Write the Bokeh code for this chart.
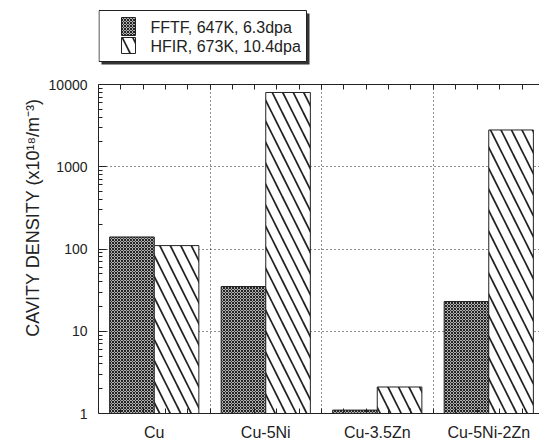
import math
from bokeh.plotting import figure
from bokeh.layouts import row, column
from bokeh.models import (Range1d, FixedTicker, LinearAxis, PrintfTickFormatter,
                          CustomJSTickFormatter)
from bokeh.core.properties import value
from bokeh.embed import file_html
from bokeh.resources import INLINE

categories = ["Cu", "Cu-5Ni", "Cu-3.5Zn", "Cu-5Ni-2Zn"]
fftf = [140, 35, 1.1, 23]
hfir = [110, 8000, 2.1, 2800]
series_labels = ["FFTF, 647K, 6.3dpa", "HFIR, 673K, 10.4dpa"]
y_ticks = [1, 10, 100, 1000, 10000]
y_tick_labels = ["1", "10", "100", "1000", "10000"]
y_title = "CAVITY DENSITY (x10\u00b9\u2078/m\u207b\u00b3)"

FONT = "Liberation Sans"
INK = "#222222"
FFTF_STYLE = dict(fill_color="#b0b0b0", hatch_pattern="x", hatch_scale=3,
                  hatch_color=INK, hatch_weight=1, line_color=INK, line_width=1)
HFIR_STYLE = dict(fill_color="white", hatch_pattern="\\", hatch_scale=21,
                  hatch_color=INK, hatch_weight=1.7, line_color=INK, line_width=1)


def blank(fig):
    fig.outline_line_color = None
    fig.xgrid.visible = False
    fig.ygrid.visible = False
    return fig


LEFT_W = 45
TOP_H = 70
W, H = 539, 443
FRAME_L = 98   # page x of the plot frame's left edge

# left strip: y title
left = blank(figure(width=LEFT_W, height=H, x_range=Range1d(0, LEFT_W), y_range=Range1d(0, H),
                    x_axis_location=None, y_axis_location=None,
                    output_backend="svg", toolbar_location=None, min_border=0))
left.text(x=[32], y=[H - 217], text=[y_title], angle=math.pi / 2,
          text_align="center", text_baseline="middle",
          text_font=value(FONT), text_font_size="18px", text_color=INK)

# top strip: legend (its frame is aligned with the main frame: page x 98..539)
TW = W - LEFT_W
top = blank(figure(width=TW, height=TOP_H, x_range=Range1d(FRAME_L, W), y_range=Range1d(0, TOP_H),
                   x_axis_location=None, y_axis_location=None,
                   output_backend="svg", toolbar_location=None, min_border=0))
top.quad(left=[101], right=[309], top=[TOP_H - 13], bottom=[TOP_H - 64],
         fill_color="#333333", line_color=None)
top.quad(left=[98.5], right=[306], top=[TOP_H - 10], bottom=[TOP_H - 61],
         fill_color="white", line_color=INK, line_width=1)
top.quad(left=[121], right=[135], top=[TOP_H - 17], bottom=[TOP_H - 35], **FFTF_STYLE)
top.quad(left=[121], right=[135], top=[TOP_H - 37], bottom=[TOP_H - 53], **HFIR_STYLE)
top.text(x=[150, 150], y=[TOP_H - 27, TOP_H - 46], text=series_labels,
         text_align="left", text_baseline="middle",
         text_font=value(FONT), text_font_size="16px", text_color=INK)

# main plot
n = len(categories)
centers = [i + 0.5 for i in range(n)]
x_fftf = [c - 0.2 for c in centers]
x_hfir = [c + 0.2 for c in centers]
fine_ticks = [round(0.2 * k, 4) for k in range(1, 5 * n)]
minor_y = [m * 10 ** d for d in range(4) for m in range(2, 10)]

MAIN_H = H - TOP_H
p = figure(width=TW, height=MAIN_H, y_axis_type="log",
           x_range=Range1d(0, 3.955), y_range=Range1d(1, 10000),
           output_backend="svg", toolbar_location=None,
           min_border_left=FRAME_L - LEFT_W, min_border_right=0,
           min_border_top=84 - TOP_H, min_border_bottom=28)
p.outline_line_color = None

p.xgrid.ticker = FixedTicker(ticks=[1, 2, 3])
p.ygrid.ticker = FixedTicker(ticks=[10, 100, 1000])
for g in (p.xgrid[0], p.ygrid[0]):
    g.grid_line_color = INK
    g.grid_line_dash = "1 3"
    g.grid_line_width = 1

p.vbar(x=x_fftf, top=fftf, bottom=1, width=0.4, **FFTF_STYLE)
p.vbar(x=x_hfir, top=hfir, bottom=1, width=0.4, **HFIR_STYLE)

ya = p.yaxis[0]
ya.ticker = FixedTicker(ticks=y_ticks, minor_ticks=minor_y)
ya.formatter = PrintfTickFormatter(format="%d")
ya.major_label_overrides = dict(zip(y_ticks, y_tick_labels))
ya.major_tick_in = 8
ya.major_tick_out = 0
ya.minor_tick_in = 4
ya.minor_tick_out = 0
ya.major_label_standoff = 11
ya.major_label_text_font = FONT
ya.major_label_text_font_size = "14px"
ya.major_label_text_color = INK
ya.axis_line_color = INK
ya.major_tick_line_color = INK
ya.minor_tick_line_color = INK

xa = p.xaxis[0]
xa.ticker = FixedTicker(ticks=centers, minor_ticks=fine_ticks)
xa.major_label_overrides = dict(zip(centers, categories))
xa.major_tick_line_color = None
xa.minor_tick_in = 5
xa.minor_tick_out = 0
xa.minor_tick_line_color = INK
xa.major_label_standoff = 4
xa.major_label_text_font = FONT
xa.major_label_text_font_size = "16px"
xa.major_label_text_color = INK
xa.axis_line_color = INK

top_axis = LinearAxis(ticker=FixedTicker(ticks=fine_ticks, minor_ticks=[]),
                      formatter=CustomJSTickFormatter(code="return ''"),
                      major_tick_in=5, major_tick_out=0, minor_tick_in=0, minor_tick_out=0,
                      axis_line_color=INK, major_tick_line_color=INK,
                      major_label_standoff=0, major_label_text_font_size="1px")
p.add_layout(top_axis, "above")

layout = row(left, column(top, p))
open("out.html", "w").write(file_html(layout, INLINE))
